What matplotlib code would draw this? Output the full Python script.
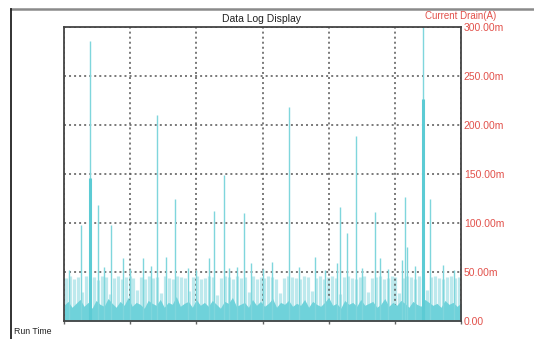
import matplotlib
matplotlib.use("Agg")
import matplotlib.pyplot as plt
from matplotlib.lines import Line2D
from matplotlib.ticker import FuncFormatter, MultipleLocator
import numpy as np

# ---- data (current in mA, time in samples) ----
title = "Data Log Display"
y_label = "Current Drain(A)"
x_label = "Run Time"
y_ticks = [0, 50, 100, 150, 200, 250, 300]

# upper edge of light band, 100 evenly spaced samples over the run
band_top = [44, 46, 43, 45, 30, 46, 44, 45, 42, 46, 45, 28, 44, 46, 43, 45, 46, 44, 32, 45,
            43, 46, 44, 45, 29, 46, 44, 43, 46, 45, 44, 31, 45, 46, 43, 44, 46, 45, 27, 44,
            46, 45, 43, 46, 44, 45, 30, 46, 43, 45, 44, 46, 45, 43, 29, 44, 46, 45, 44, 43,
            46, 45, 31, 44, 46, 43, 45, 46, 44, 28, 45, 46, 44, 43, 45, 46, 30, 44, 45, 46,
            43, 44, 46, 45, 29, 44, 46, 45, 43, 46, 44, 32, 45, 46, 44, 43, 45, 46, 44, 45]
# upper edge of the dense base current
base_level = [16, 20, 14, 18, 22, 15, 19, 13, 21, 17, 15, 23, 18, 14, 20, 16, 24, 15, 19, 17,
              13, 21, 18, 16, 22, 14, 19, 17, 25, 15, 18, 20, 14, 22, 16, 19, 15, 21, 17, 13,
              20, 18, 24, 15, 17, 19, 14, 22, 16, 20, 15, 18, 23, 14, 19, 17, 21, 15, 18, 16,
              22, 14, 20, 17, 15, 19, 24, 16, 18, 13, 21, 17, 19, 15, 22, 16, 18, 20, 14, 17,
              23, 15, 19, 16, 21, 18, 14, 20, 17, 15, 22, 19, 16, 18, 14, 21, 17, 19, 15, 18]

spike_t = [26, 40, 51, 71, 89, 119, 141, 154, 168, 187, 219, 227, 242, 261, 272, 283,
           314, 340, 379, 413, 417, 428, 441, 470, 478, 511, 515, 518, 543, 553, 573,
           8, 60, 100, 131, 200, 250, 300, 355, 395, 450, 490, 530, 590]
spike_v = [98, 286, 118, 98, 64, 64, 210, 65, 124, 54, 64, 112, 149, 55, 110, 59,
           60, 218, 65, 59, 116, 90, 189, 111, 64, 62, 127, 76, 300, 125, 57,
           52, 55, 53, 56, 52, 54, 53, 55, 52, 54, 53, 56, 52]
thick_t = [40, 543]
thick_v = [146, 227]

t_max = 600

# ---- figure ----
W, H = 534, 339
fig = plt.figure(figsize=(W / 100, H / 100), dpi=100)
fig.patch.set_facecolor("white")
ax = fig.add_axes([64 / W, 1 - 321 / H, (461 - 64) / W, (321 - 27) / H])

n = len(band_top)
t_band = (np.arange(n) + 0.5) * t_max / n
t_base = np.linspace(0, t_max, len(base_level))
ax.vlines(t_band, 0, band_top, color="#bde9ed", lw=2.3, zorder=1)
ax.fill_between(t_base, 0, base_level, color="#6fd2da", lw=0, zorder=2)
ax.vlines(spike_t, 0, spike_v, color="#7fd6dc", lw=1.0, zorder=3)
ax.vlines(thick_t, 0, thick_v, color="#5ccbd4", lw=2.2, zorder=3)

ax.set_xlim(0, t_max)
ax.set_ylim(0, 300)
ax.xaxis.set_major_locator(MultipleLocator(100))
ax.set_yticks(y_ticks)
ax.grid(True, color="#555555", linestyle=(0, (1.3, 2.0)), linewidth=1.1)
for gl in ax.get_xgridlines() + ax.get_ygridlines():
    gl.set_zorder(4)

ax.yaxis.tick_right()
ax.yaxis.set_major_formatter(FuncFormatter(lambda v, p: "0.00" if v == 0 else f"{v:.2f}m"))
ax.tick_params(axis="y", length=0, pad=2, labelsize=7.5, labelcolor="#e2514b")
ax.tick_params(axis="x", length=2, width=1, color="#666666", labelbottom=False)
for lab in ax.get_yticklabels():
    lab.set_fontfamily("Liberation Sans")

for s in ax.spines.values():
    s.set_color("#444444")
    s.set_linewidth(1.3)
    s.set_zorder(5)

fig.text(262 / W, 1 - 19 / H, title, ha="center", va="center", fontsize=7.5,
         family="Liberation Sans", color="#222222")
fig.text(425 / W, 1 - 16 / H, y_label, ha="left", va="center", fontsize=7,
         family="Liberation Sans", color="#e2514b")
fig.text(14 / W, 1 - 332 / H, x_label, ha="left", va="center", fontsize=6.3,
         family="Liberation Sans", color="#222222")

# outer window frame
fig.add_artist(Line2D([11 / W, 1], [1 - 9 / H, 1 - 9 / H], transform=fig.transFigure,
                      color="#8a8a8a", lw=1.8))
fig.add_artist(Line2D([11 / W, 11 / W], [0, 1 - 9 / H], transform=fig.transFigure,
                      color="#222222", lw=1.3))

fig.savefig("out.png", dpi=100)
